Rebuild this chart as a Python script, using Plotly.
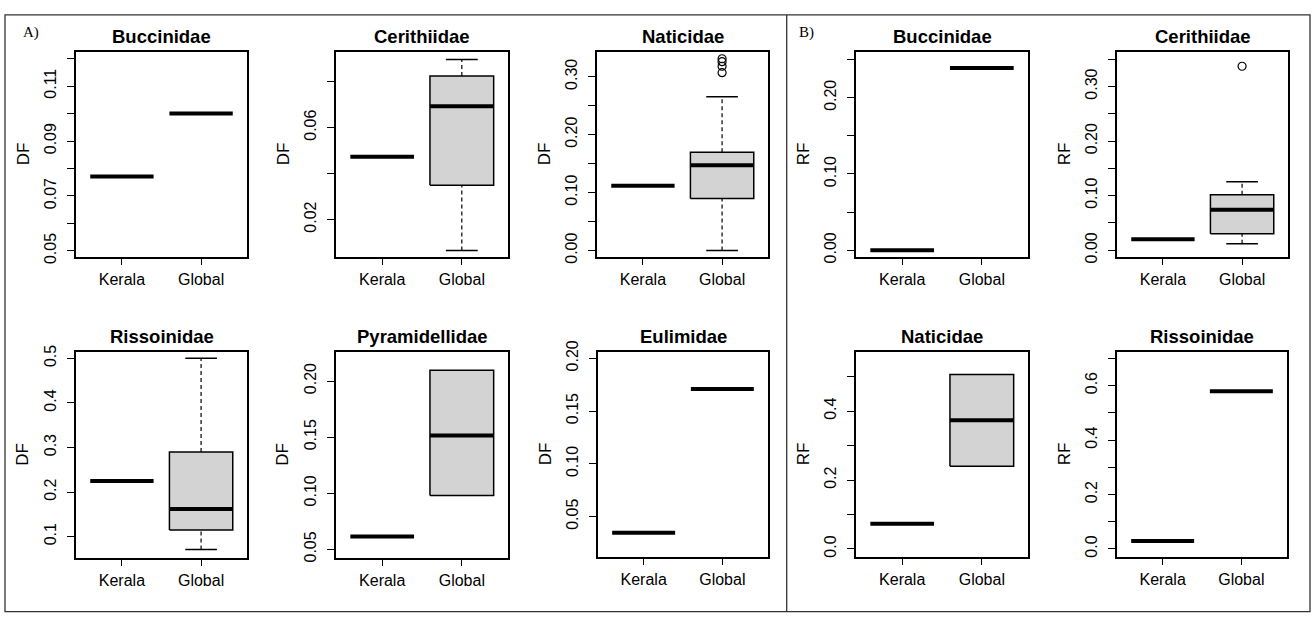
import plotly.graph_objects as go

# ---------------- data ----------------
categories = ["Kerala", "Global"]

# A) DF panels
families_df = ["Buccinidae", "Cerithiidae", "Naticidae", "Rissoinidae", "Pyramidellidae", "Eulimidae"]
df_kerala = [0.0771, 0.0473, 0.1117, 0.2248, 0.0613, 0.0347]
df_global_low = [0.100, 0.0065, 0.000, 0.071, 0.098, 0.1708]
df_global_q1 = [0.100, 0.0349, 0.090, 0.1146, 0.098, 0.1708]
df_global_med = [0.100, 0.0693, 0.147, 0.1617, 0.1514, 0.1708]
df_global_q3 = [0.100, 0.0825, 0.1696, 0.290, 0.2095, 0.1708]
df_global_high = [0.100, 0.0896, 0.2656, 0.500, 0.2095, 0.1708]
df_global_out = [[], [], [0.307, 0.318, 0.326, 0.331], [], [], []]

# B) RF panels
families_rf = ["Buccinidae", "Cerithiidae", "Naticidae", "Rissoinidae"]
rf_kerala = [0.000, 0.020, 0.0732, 0.0297]
rf_global_low = [0.239, 0.0118, 0.2403, 0.5786]
rf_global_q1 = [0.239, 0.030, 0.2403, 0.5786]
rf_global_med = [0.239, 0.0741, 0.3737, 0.5786]
rf_global_q3 = [0.239, 0.1018, 0.5066, 0.5786]
rf_global_high = [0.239, 0.1253, 0.5066, 0.5786]
rf_global_out = [[], [0.337], [], []]

# y tick values and labels per panel
ytick_vals = [
    [0.05, 0.06, 0.07, 0.08, 0.09, 0.10, 0.11, 0.12],
    [0.02, 0.04, 0.06, 0.08],
    [0.00, 0.05, 0.10, 0.15, 0.20, 0.25, 0.30],
    [0.1, 0.2, 0.3, 0.4, 0.5],
    [0.05, 0.10, 0.15, 0.20],
    [0.05, 0.10, 0.15, 0.20],
    [0.00, 0.05, 0.10, 0.15, 0.20, 0.25],
    [0.00, 0.05, 0.10, 0.15, 0.20, 0.25, 0.30, 0.35],
    [0.0, 0.1, 0.2, 0.3, 0.4, 0.5],
    [0.0, 0.1, 0.2, 0.3, 0.4, 0.5, 0.6, 0.7],
]
ytick_text = [
    ["0.05", "", "0.07", "", "0.09", "", "0.11", ""],
    ["0.02", "", "0.06", ""],
    ["0.00", "", "0.10", "", "0.20", "", "0.30"],
    ["0.1", "0.2", "0.3", "0.4", "0.5"],
    ["0.05", "0.10", "0.15", "0.20"],
    ["0.05", "0.10", "0.15", "0.20"],
    ["0.00", "", "0.10", "", "0.20", ""],
    ["0.00", "", "0.10", "", "0.20", "", "0.30", ""],
    ["0.0", "", "0.2", "", "0.4", ""],
    ["0.0", "", "0.2", "", "0.4", "", "0.6", ""],
]

# ---------------- layout constants ----------------
W, H = 1315, 622
geom = [  # plot box (left, right, top, bottom) in pixels
    (76, 247, 42, 253), (336, 508, 42, 253), (597, 768, 42, 253),
    (76, 247, 351, 563), (336, 508, 351, 563), (598, 768, 351, 562),
    (856, 1028, 42, 253), (1117, 1288, 42, 253),
    (856, 1028, 351, 562), (1117, 1287, 351, 562),
]
yranges = [
    (0.0479, 0.1225), (0.0038, 0.093), (-0.0106, 0.343),
    (0.0527, 0.5146), (0.0425, 0.226), (0.012, 0.2061),
    (-0.0085, 0.2602), (-0.0118, 0.3635),
    (-0.0225, 0.572), (-0.0285, 0.7237),
]
title_y = {42: 26.7, 351: 335}
BOXW = 0.8
CAPW = 0.4
FONT = "Liberation Sans, Arial, sans-serif"
FILL = "#D3D3D3"

panels = []
for i, fam in enumerate(families_df):
    panels.append(dict(title=fam, ylab="DF", kerala=df_kerala[i],
                       stats=(df_global_low[i], df_global_q1[i], df_global_med[i],
                              df_global_q3[i], df_global_high[i]),
                       out=df_global_out[i]))
for i, fam in enumerate(families_rf):
    panels.append(dict(title=fam, ylab="RF", kerala=rf_kerala[i],
                       stats=(rf_global_low[i], rf_global_q1[i], rf_global_med[i],
                              rf_global_q3[i], rf_global_high[i]),
                       out=rf_global_out[i]))

fig = go.Figure()
layout = dict(width=W, height=H, margin=dict(l=0, r=0, t=0, b=0),
              paper_bgcolor="white", plot_bgcolor="white", showlegend=False,
              font=dict(family=FONT, color="black"))
annotations = []
shapes = []

for k, p in enumerate(panels):
    n = "" if k == 0 else str(k + 1)
    xa, ya = "x" + n, "y" + n
    L, R, T, B = geom[k]

    def add_line(xs, ys, width, dash=None):
        fig.add_trace(go.Scatter(x=xs, y=ys, mode="lines", xaxis=xa, yaxis=ya,
                                 line=dict(color="black", width=width, dash=dash),
                                 hoverinfo="skip"))

    groups = [(1, (p["kerala"],) * 5, []), (2, p["stats"], p["out"])]
    for pos, (lo, q1, med, q3, hi), outs in groups:
        if q3 > q1:
            fig.add_trace(go.Scatter(
                x=[pos - BOXW / 2, pos + BOXW / 2, pos + BOXW / 2, pos - BOXW / 2, pos - BOXW / 2],
                y=[q1, q1, q3, q3, q1], mode="lines", fill="toself", fillcolor=FILL,
                line=dict(color="black", width=1.5), xaxis=xa, yaxis=ya, hoverinfo="skip"))
        if hi > q3:
            add_line([pos, pos], [q3, hi], 1.2, "4px,3px")
            add_line([pos - CAPW / 2, pos + CAPW / 2], [hi, hi], 1.5)
        if lo < q1:
            add_line([pos, pos], [lo, q1], 1.2, "4px,3px")
            add_line([pos - CAPW / 2, pos + CAPW / 2], [lo, lo], 1.5)
        add_line([pos - BOXW / 2, pos + BOXW / 2], [med, med], 4)
        if outs:
            fig.add_trace(go.Scatter(x=[pos] * len(outs), y=outs, mode="markers",
                                     xaxis=xa, yaxis=ya, hoverinfo="skip",
                                     marker=dict(symbol="circle-open", size=8,
                                                 color="black", line=dict(width=1.2))))

    layout["xaxis" + n] = dict(
        domain=[L / W, R / W], range=[0.42, 2.58], anchor=ya,
        tickvals=[1, 2], ticktext=categories, ticks="outside", ticklen=7,
        tickwidth=1.3, tickcolor="black", showline=True, mirror=True,
        linecolor="black", linewidth=1.5, showgrid=False, zeroline=False,
        tickfont=dict(size=16, family=FONT), fixedrange=True)
    layout["yaxis" + n] = dict(
        domain=[1 - B / H, 1 - T / H], range=list(yranges[k]), anchor=xa,
        tickvals=ytick_vals[k], ticktext=ytick_text[k], tickangle=-90,
        ticks="outside", ticklen=7, tickwidth=1.3, tickcolor="black",
        ticklabelstandoff=5,
        showline=True, mirror=True, linecolor="black", linewidth=1.5,
        showgrid=False, zeroline=False, tickfont=dict(size=16, family=FONT),
        fixedrange=True)

    annotations.append(dict(text="<b>" + p["title"] + "</b>", xref="paper", yref="paper",
                            x=(L + R) / 2 / W, y=1 - title_y[T] / H, showarrow=False,
                            xanchor="center", yanchor="middle",
                            font=dict(size=18.5, family=FONT, color="black")))
    annotations.append(dict(text=p["ylab"], xref="paper", yref="paper",
                            x=(L - 53) / W, y=1 - (T + B) / 2 / H, showarrow=False,
                            textangle=-90, xanchor="center", yanchor="middle",
                            font=dict(size=17, family=FONT, color="black")))

for lab, px in [("A)", 21), ("B)", 797)]:
    annotations.append(dict(text=lab, xref="paper", yref="paper", x=px / W, y=1 - 22.5 / H,
                            showarrow=False, xanchor="left", yanchor="middle",
                            font=dict(size=15, family="Liberation Serif, Times New Roman, serif",
                                      color="black")))

shapes.append(dict(type="rect", xref="paper", yref="paper", x0=5 / W, x1=1310 / W,
                   y0=1 - 618.5 / H, y1=1 - 4 / H, line=dict(color="#333333", width=1.3)))
shapes.append(dict(type="line", xref="paper", yref="paper", x0=786.7 / W, x1=786.7 / W,
                   y0=1 - 618.5 / H, y1=1 - 4 / H, line=dict(color="#333333", width=1.3)))

layout["annotations"] = annotations
layout["shapes"] = shapes
fig.update_layout(**layout)
fig.write_html("out.html")
